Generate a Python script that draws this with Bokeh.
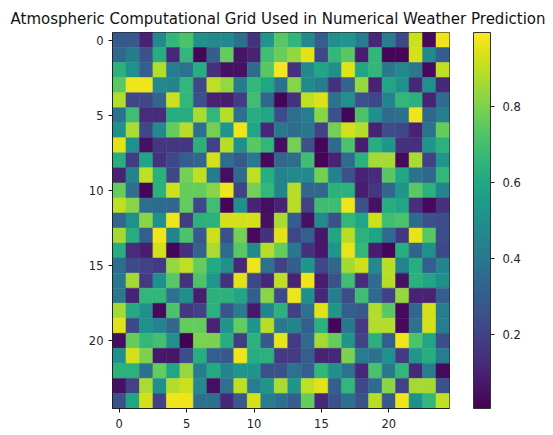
import numpy as np
from bokeh.plotting import figure
from bokeh.models import LinearColorMapper, ColorBar, FixedTicker, ColumnDataSource
from bokeh.palettes import Viridis256
from bokeh.transform import transform
from bokeh.embed import file_html
from bokeh.resources import INLINE

title_text = "Atmospheric Computational Grid Used in Numerical Weather Prediction"
axis_ticks = [0, 5, 10, 15, 20]
colorbar_ticks = [0.2, 0.4, 0.6, 0.8]
value_low = 0.005
value_high = 0.995

row_00 = [.28,.28,.10,.48,.66,.72,.50,.47,.47,.37,.15,.52,.74,.66,.47,.30,.50,.52,.42,.12,.42,.22,.92,.03,.97]
row_01 = [.33,.42,.25,.62,.12,.66,.02,.30,.76,.06,.10,.69,.77,.84,.95,.22,.66,.74,.08,.66,.02,.02,.93,.48,.30]
row_02 = [.64,.50,.30,.88,.42,.38,.62,.15,.05,.05,.35,.74,.98,.15,.48,.59,.50,.95,.59,.66,.40,.47,.40,.03,.90]
row_03 = [.74,.97,.97,.47,.45,.66,.22,.90,.84,.42,.66,.59,.38,.82,.48,.42,.15,.32,.84,.10,.59,.50,.12,.50,.12]
row_04 = [.88,.22,.22,.33,.92,.66,.25,.10,.08,.18,.69,.33,.02,.15,.90,.94,.38,.50,.25,.22,.45,.66,.64,.10,.35]
row_05 = [.38,.69,.13,.13,.62,.62,.87,.66,.89,.38,.62,.59,.24,.37,.42,.82,.25,.02,.72,.50,.35,.37,.97,.33,.43]
row_06 = [.50,.87,.22,.47,.76,.89,.37,.79,.52,.97,.59,.12,.40,.36,.40,.20,.79,.93,.88,.10,.24,.22,.10,.38,.76]
row_07 = [.95,.50,.05,.16,.16,.16,.64,.20,.89,.50,.74,.66,.04,.79,.25,.02,.35,.72,.08,.62,.52,.15,.14,.53,.64]
row_08 = [.62,.18,.59,.15,.22,.30,.33,.93,.36,.28,.40,.03,.33,.36,.69,.02,.10,.36,.64,.86,.86,.03,.87,.20,.52]
row_09 = [.10,.45,.90,.64,.22,.79,.90,.42,.04,.35,.90,.62,.45,.47,.47,.79,.45,.25,.10,.13,.74,.59,.38,.33,.66]
row_10 = [.76,.37,.02,.64,.92,.76,.76,.82,.97,.20,.79,.66,.45,.89,.33,.33,.64,.64,.08,.16,.33,.52,.74,.64,.45]
row_11 = [.90,.82,.36,.35,.33,.76,.22,.69,.02,.50,.10,.04,.10,.89,.20,.69,.69,.97,.25,.05,.62,.59,.14,.03,.15]
row_12 = [.33,.50,.82,.50,.97,.18,.64,.64,.93,.93,.93,.05,.87,.30,.05,.47,.25,.66,.59,.92,.69,.72,.35,.25,.24]
row_13 = [.86,.62,.30,.97,.45,.72,.28,.92,.25,.79,.03,.15,.95,.22,.30,.07,.59,.89,.64,.59,.35,.16,.96,.74,.24]
row_14 = [.62,.13,.08,.93,.02,.15,.32,.87,.35,.74,.48,.89,.76,.40,.15,.07,.52,.96,.66,.08,.02,.62,.32,.50,.22]
row_15 = [.36,.23,.20,.17,.84,.90,.76,.61,.50,.12,.97,.38,.20,.30,.53,.22,.33,.86,.92,.47,.89,.45,.62,.30,.45]
row_16 = [.40,.86,.17,.50,.74,.15,.72,.52,.15,.95,.22,.12,.90,.10,.97,.08,.25,.69,.13,.35,.89,.05,.64,.59,.50]
row_17 = [.40,.10,.66,.66,.38,.50,.08,.64,.64,.59,.30,.82,.22,.97,.50,.12,.42,.24,.69,.35,.20,.84,.10,.10,.30]
row_18 = [.86,.61,.50,.03,.72,.16,.20,.64,.27,.42,.07,.45,.64,.20,.38,.95,.52,.30,.28,.88,.74,.03,.33,.93,.42]
row_19 = [.95,.22,.50,.45,.33,.76,.76,.10,.52,.76,.52,.89,.40,.45,.30,.64,.02,.40,.17,.88,.88,.03,.38,.93,.42]
row_20 = [.04,.76,.66,.70,.50,.01,.80,.80,.62,.18,.64,.28,.96,.18,.35,.86,.76,.52,.20,.64,.30,.97,.72,.59,.24]
row_21 = [.50,.93,.80,.07,.06,.24,.62,.30,.28,.97,.62,.64,.17,.18,.30,.10,.12,.80,.42,.38,.50,.17,.52,.62,.42]
row_22 = [.64,.64,.37,.76,.59,.84,.42,.61,.45,.52,.52,.25,.25,.38,.30,.66,.50,.38,.12,.71,.40,.66,.12,.42,.03]
row_23 = [.05,.20,.87,.50,.88,.92,.47,.04,.38,.90,.42,.52,.87,.52,.90,.95,.30,.66,.22,.35,.82,.20,.86,.86,.25]
row_24 = [.25,.59,.93,.20,.97,.97,.37,.37,.12,.28,.93,.42,.37,.30,.76,.12,.25,.37,.25,.89,.28,.97,.50,.66,.90]

rows = [row_00,row_01,row_02,row_03,row_04,row_05,row_06,row_07,row_08,row_09,row_10,row_11,row_12,
        row_13,row_14,row_15,row_16,row_17,row_18,row_19,row_20,row_21,row_22,row_23,row_24]
grid = np.array(rows, dtype=float)
n = grid.shape[0]
yy, xx = np.mgrid[0:n, 0:n]
source = ColumnDataSource(dict(x=xx.ravel(), y=yy.ravel(), v=grid.ravel()))

p = figure(width=553, height=435, output_backend="svg", toolbar_location=None,
           x_range=(-0.5, n - 0.5), y_range=(n - 0.5, -0.5),
           min_border_left=112, min_border_top=32, min_border_bottom=27, min_border_right=104)

mapper = LinearColorMapper(palette=Viridis256, low=value_low, high=value_high)
p.rect(x="x", y="y", width=1, height=1, source=source,
       fill_color=transform("v", mapper), line_color=transform("v", mapper), line_width=0.5)

p.title.text = title_text
p.title.align = "left"
p.title.offset = -102
p.title.text_font = "DejaVu Sans"
p.title.text_font_size = "15px"
p.title.text_font_style = "normal"
p.title.text_color = "#111111"

for ax in (p.xaxis[0], p.yaxis[0]):
    ax.ticker = FixedTicker(ticks=axis_ticks)
    ax.minor_tick_line_color = None
    ax.major_tick_in = 0
    ax.major_tick_out = 4
    ax.major_tick_line_color = "#111111"
    ax.axis_line_color = "#222222"
    ax.major_label_text_font = "DejaVu Sans"
    ax.major_label_text_font_size = "11.5px"
    ax.major_label_text_color = "#222222"
p.xaxis[0].major_label_standoff = 6
p.yaxis[0].major_label_standoff = 5
p.xgrid.visible = False
p.ygrid.visible = False
p.outline_line_color = "#222222"

cb = ColorBar(color_mapper=mapper, ticker=FixedTicker(ticks=colorbar_ticks), width=17, height=376,
              location=(361, 0), padding=0, margin=0, major_tick_in=0, major_tick_out=4,
              major_tick_line_color="#222222", minor_tick_line_color=None,
              bar_line_color="#333333", label_standoff=8,
              major_label_text_font="DejaVu Sans", major_label_text_font_size="11.5px",
              major_label_text_color="#222222")
p.add_layout(cb)

open("out.html", "w").write(file_html(p, INLINE))
